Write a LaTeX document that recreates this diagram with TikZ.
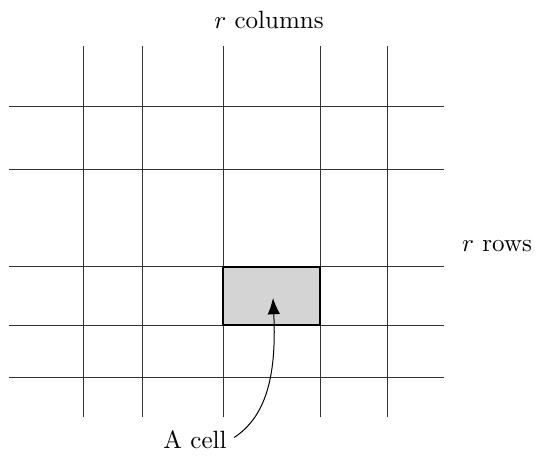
\documentclass[tikz,border=0pt]{standalone}
\usetikzlibrary{arrows.meta}
\begin{document}
\begin{tikzpicture}[x=0.4pt,y=-0.4pt,
  gridline/.style={draw=black!80,line width=0.4pt},
  cellbox/.style={draw=black,fill=black!17,line width=0.8pt},
  lbl/.style={inner sep=1pt}]
\useasboundingbox (0,0) rectangle (538,458);
% vertical lines
\foreach \x in {83,142,223,320,387} \draw[gridline] (\x,46) -- (\x,417);
% horizontal lines
\foreach \y in {107,170,267,325,377} \draw[gridline] (9,\y) -- (444,\y);
\draw[cellbox] (223,267) rectangle (320,325);
\coordinate (tip) at (273,298);
\node[lbl] (cols) at (269,20) {$r$ columns};
\node[lbl] (rows) at (497,246) {$r$ rows};
\node[lbl,outer sep=2pt] (cell) at (195,440) {A cell};
\draw[-{Latex[length=6.5pt,width=5pt]}] ([yshift=1pt]cell.east) .. controls (264,418) and (277,380) .. (tip);
\end{tikzpicture}
\end{document}
